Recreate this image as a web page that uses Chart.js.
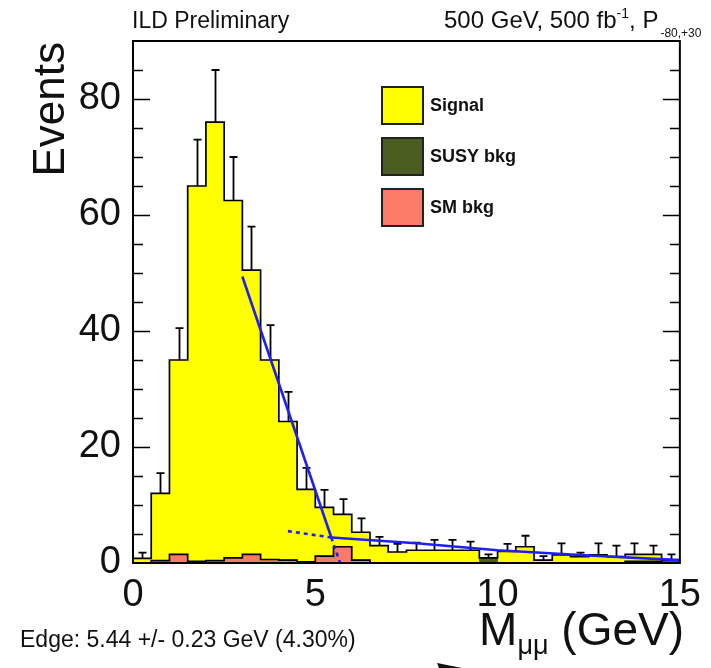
<!DOCTYPE html>
<html>
<head>
<meta charset="utf-8">
<script src="https://cdn.jsdelivr.net/npm/chart.js@4.4.1/dist/chart.umd.min.js"></script>
<style>
  body { margin: 0; background: #fff; }
  canvas { display: block; }
</style>
</head>
<body>
<canvas id="chart" width="711" height="668"></canvas>
<script>
// 0.5 GeV bins from 0 to 15
let binEdges = [0, 0.5, 1, 1.5, 2, 2.5, 3, 3.5, 4, 4.5, 5, 5.5, 6, 6.5, 7, 7.5, 8, 8.5, 9, 9.5, 10, 10.5, 11, 11.5, 12, 12.5, 13, 13.5, 14, 14.5, 15]
let binCentres = [0.25, 0.75, 1.25, 1.75, 2.25, 2.75, 3.25, 3.75, 4.25, 4.75, 5.25, 5.75, 6.25, 6.75, 7.25, 7.75, 8.25, 8.75, 9.25, 9.75, 10.25, 10.75, 11.25, 11.75, 12.25, 12.75, 13.25, 13.75, 14.25, 14.75]

// stacked components
let smBkg   = [0, 0.4, 1.5, 0.3, 0.4, 0.9, 1.5, 0.6, 0.5, 0.2, 1.2, 2.8, 0.5, 0, 0, 0, 0, 0, 0, 0, 0, 0, 0, 0, 0, 0, 0, 0.3, 0.3, 0]
let susyBkg = [0, 0, 0, 0, 0, 0, 0, 0, 0, 0, 0, 0, 0, 0, 0, 0, 0, 0, 0, 0.9, 0, 0, 0.1, 0, 0, 0, 0, 0, 0, 0.3]
let signal  = [0.8, 11.6, 33.5, 64.7, 75.6, 61.6, 49.0, 34.4, 23.9, 12.5, 8.4, 5.6, 4.8, 3.0, 1.9, 2.2, 2.2, 2.2, 2.2, 0, 2.0, 2.8, 0.4, 1.4, 1.1, 1.4, 1.1, 1.2, 1.2, 0.2]
// upper end of each error bar
let errTop  = [1.8, 15.5, 40.5, 73, 85, 70, 58, 41, 29.5, 16.4, 12.6, 11, 7.7, 4.5, 3.3, 3.5, 4.0, 4.0, 3.7, 1.5, 3.3, 4.7, 1.2, 3.4, 1.8, 3.4, 3.0, 3.4, 3.0, 1.5]

// edge fit: steep part and flat tail
let steepX = [3.0, 5.44]
let steepY = [49.4, 4.4]
let steepDashX = [5.44, 5.68]
let steepDashY = [4.4, 0]
let tailX = [5.44, 7.77, 10, 12.5, 15]
let tailY = [4.4, 3.4, 2.2, 1.3, 0.5]
let tailDashX = [4.25, 5.44]
let tailDashY = [5.5, 4.4]

let xTicks = [0, 5, 10, 15]
let yTicks = [0, 20, 40, 60, 80]

const FONT = "'Liberation Sans', Arial, sans-serif"
const BLUE = '#1f1ff5'

function pts(xs, ys) {
    return xs.map((x, i) => ({ x: x, y: ys[i] }))
}

// stack tops for outlines / error bars
let smTop = smBkg.map(v => v)
let susyTop = smBkg.map((v, i) => v + susyBkg[i])
let totalTop = susyTop.map((v, i) => v + signal[i])

// step outline: each bin top runs from its low edge to its high edge
function stepPts(tops) {
    let out = tops.map((t, i) => ({ x: binEdges[i], y: t }))
    out.push({ x: binEdges[binEdges.length - 1], y: tops[tops.length - 1] })
    return out
}

function barSet(label, values, colour) {
    return {
        type: 'bar',
        label: label,
        data: pts(binCentres, values),
        backgroundColor: colour,
        borderWidth: 0,
        barPercentage: 1,
        categoryPercentage: 1,
        order: 3
    }
}

function outline(tops, errors) {
    return {
        type: 'line',
        data: stepPts(tops),
        yAxisID: 'yFit',
        stepped: 'before',
        borderColor: '#000',
        borderWidth: 1.7,
        pointRadius: 0,
        fill: false,
        order: 2,
        drawErrors: errors
    }
}

function fitLine(xs, ys, dashed) {
    return {
        type: 'line',
        data: pts(xs, ys),
        yAxisID: 'yFit',
        borderColor: BLUE,
        borderWidth: 2.6,
        borderDash: dashed ? [4, 4] : [],
        pointRadius: 0,
        tension: 0,
        fill: false,
        order: 1
    }
}

const errorBars = {
    id: 'errorBars',
    afterDatasetDraw(chart, args) {
        let ds = chart.data.datasets[args.index]
        if (!ds.drawErrors) return
        let ctx = chart.ctx
        let xs = chart.scales.x
        let ys = chart.scales.y
        ctx.save()
        ctx.strokeStyle = '#000'
        ctx.lineWidth = 1.8
        binCentres.forEach((c, i) => {
            let px = Math.round(xs.getPixelForValue(c)) + 0.5
            let y0 = ys.getPixelForValue(totalTop[i])
            let y1 = ys.getPixelForValue(errTop[i])
            ctx.beginPath()
            ctx.moveTo(px, y0)
            ctx.lineTo(px, y1)
            ctx.moveTo(px - 4, y1)
            ctx.lineTo(px + 4, y1)
            ctx.stroke()
        })
        ctx.restore()
    }
}

const frame = {
    id: 'frame',
    afterDraw(chart) {
        let ctx = chart.ctx
        let a = chart.chartArea
        let ys = chart.scales.y
        ctx.save()
        ctx.strokeStyle = '#000'
        ctx.lineWidth = 2
        ctx.strokeRect(a.left, a.top, a.right - a.left, a.bottom - a.top)
        ctx.lineWidth = 1.6
        for (let v = 5; v < 90; v += 5) {
            let py = Math.round(ys.getPixelForValue(v)) + 0.5
            let len = v % 20 == 0 ? 17 : 10
            ctx.beginPath()
            ctx.moveTo(a.left, py)
            ctx.lineTo(a.left + len, py)
            ctx.moveTo(a.right, py)
            ctx.lineTo(a.right - len, py)
            ctx.stroke()
        }

        // legend, top entry is the top of the stack
        let sets = chart.data.datasets.filter(d => d.type == 'bar').reverse()
        sets.forEach((d, i) => {
            let y = 87 + i * 51
            ctx.fillStyle = d.backgroundColor
            ctx.fillRect(382, y, 41, 37)
            ctx.strokeStyle = '#222'
            ctx.lineWidth = 2
            ctx.strokeRect(382, y, 41, 37)
            ctx.fillStyle = '#111'
            ctx.font = 'bold 18px ' + FONT
            ctx.textBaseline = 'middle'
            ctx.textAlign = 'left'
            ctx.fillText(d.label, 430, y + 19)
        })

        ctx.fillStyle = '#111'
        ctx.textBaseline = 'alphabetic'
        ctx.font = '23px ' + FONT
        ctx.fillText('ILD Preliminary', 132, 28)

        let x = 444
        ctx.font = '24px ' + FONT
        ctx.fillText('500 GeV, 500 fb', x, 28)
        x += ctx.measureText('500 GeV, 500 fb').width
        ctx.font = '14px ' + FONT
        ctx.fillText('-1', x, 18)
        x += ctx.measureText('-1').width
        ctx.font = '24px ' + FONT
        ctx.fillText(', P', x, 28)
        x += ctx.measureText(', P').width
        ctx.font = '12px ' + FONT
        ctx.fillText('-80,+30', x + 2, 37)

        ctx.font = '23px ' + FONT
        ctx.fillText('Edge: 5.44 +/- 0.23 GeV (4.30%)', 20, 647)

        // x title with subscript, right aligned to the frame
        ctx.font = '46px ' + FONT
        let wM = ctx.measureText('M').width
        let wG = ctx.measureText(' (GeV)').width
        ctx.font = '27px ' + FONT
        let wS = ctx.measureText('\u03bc\u03bc').width
        let x0 = 684 - wM - wS - wG
        ctx.font = '46px ' + FONT
        ctx.fillText('M', x0, 645)
        ctx.font = '27px ' + FONT
        ctx.fillText('\u03bc\u03bc', x0 + wM, 654)
        ctx.font = '46px ' + FONT
        ctx.fillText(' (GeV)', x0 + wM + wS, 645)

        // y title
        ctx.save()
        ctx.translate(64, 42)
        ctx.rotate(-Math.PI / 2)
        ctx.textAlign = 'right'
        ctx.font = '44px ' + FONT
        ctx.fillText('Events', 0, 0)
        ctx.restore()

        // small black wedge at the bottom edge
        ctx.beginPath()
        ctx.moveTo(437, 663)
        ctx.lineTo(462, 668)
        ctx.lineTo(439, 668)
        ctx.closePath()
        ctx.fill()
        ctx.restore()
    }
}

new Chart(document.getElementById('chart'), {
    type: 'bar',
    data: {
        datasets: [
            barSet('SM bkg', smBkg, '#fb7a68'),
            barSet('SUSY bkg', susyBkg, '#4c5d22'),
            barSet('Signal', signal, '#ffff00'),
            outline(smTop, false),
            outline(totalTop, true),
            fitLine(steepX, steepY, false),
            fitLine(steepDashX, steepDashY, true),
            fitLine(tailX, tailY, false),
            fitLine(tailDashX, tailDashY, true)
        ]
    },
    options: {
        responsive: false,
        animation: false,
        devicePixelRatio: 1,
        layout: { padding: { top: 41, right: 30, left: 0, bottom: 0 } },
        plugins: {
            legend: { display: false },
            tooltip: { enabled: false }
        },
        scales: {
            x: {
                type: 'linear',
                min: 0,
                max: 15,
                offset: false,
                stacked: true,
                grid: { display: false, drawTicks: false },
                border: { display: false },
                afterBuildTicks: s => { s.ticks = xTicks.map(v => ({ value: v })) },
                ticks: { color: '#111', font: { family: FONT, size: 38 }, padding: 10, maxRotation: 0, autoSkip: false },
                afterFit: s => { s.height = 105 }
            },
            y: {
                min: 0,
                max: 90,
                stacked: true,
                grid: { display: false, drawTicks: false },
                border: { display: false },
                afterBuildTicks: s => { s.ticks = yTicks.map(v => ({ value: v })) },
                ticks: { color: '#111', font: { family: FONT, size: 38 }, padding: 12 },
                afterFit: s => { s.width = 133 }
            },
            yFit: { min: 0, max: 90, display: false }
        }
    },
    plugins: [errorBars, frame]
})
</script>
</body>
</html>
